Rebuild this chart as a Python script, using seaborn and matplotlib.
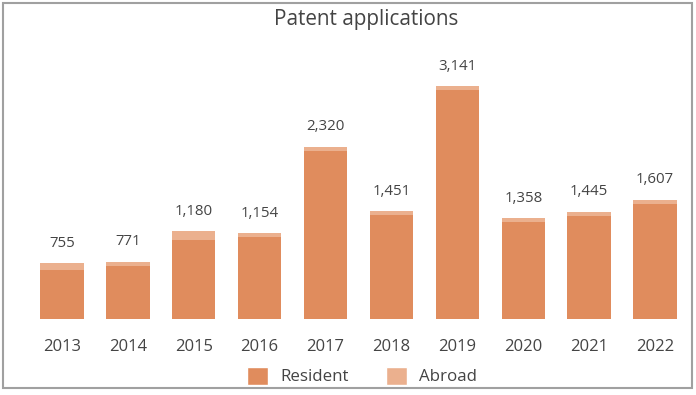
import matplotlib
matplotlib.use("Agg")
import matplotlib.pyplot as plt
import seaborn as sns
import pandas as pd
from matplotlib.patches import Patch, Rectangle

years = ["2013", "2014", "2015", "2016", "2017", "2018", "2019", "2020", "2021", "2022"]
totals = [755, 771, 1180, 1154, 2320, 1451, 3141, 1358, 1445, 1607]
resident = [665, 711, 1060, 1099, 2265, 1406, 3091, 1303, 1390, 1549]
abroad = [90, 60, 120, 55, 55, 45, 50, 55, 55, 58]
title = "Patent applications"

c_res = "#E08C5D"
c_abr = "#EBB08E"
txt = "#444444"

sns.set_theme(style="white")
plt.rcParams["font.family"] = ["Open Sans", "DejaVu Sans"]

df = pd.DataFrame({"year": years, "total": totals, "resident": resident, "abroad": abroad})

fig = plt.figure(figsize=(6.96, 3.95), dpi=100)
ax = fig.add_axes([29 / 696, 1 - 319 / 395, 659 / 696, (319 - 52) / 395])

sns.barplot(data=df, x="year", y="total", color=c_abr, width=0.66, saturation=1,
            linewidth=0, edgecolor="none", ax=ax)
sns.barplot(data=df, x="year", y="resident", color=c_res, width=0.66, saturation=1,
            linewidth=0, edgecolor="none", ax=ax)

for i, t in enumerate(df["total"]):
    ax.annotate(f"{t:,}", (i, t), xytext=(0, 9), textcoords="offset points",
                ha="center", va="bottom", fontsize=10.8, color=txt)

ax.set_ylim(0, 3600)
ax.set_xlim(-0.5, len(years) - 0.5)
ax.set_xlabel("")
ax.set_ylabel("")
ax.set_yticks([])
for s in ax.spines.values():
    s.set_visible(False)
ax.tick_params(axis="x", length=0, pad=14.5, labelsize=12, labelcolor=txt)

fig.text(366 / 696, 1 - 19 / 395, title, ha="center", va="center", fontsize=14.9, color=txt)

handles = [Patch(facecolor=c_res, label="Resident"), Patch(facecolor=c_abr, label="Abroad")]
fig.legend(handles=handles, loc="center", bbox_to_anchor=(362 / 696, 1 - 376 / 395), ncol=2,
           frameon=False, fontsize=12.2, labelcolor=txt, handlelength=1.25, handleheight=1.25,
           columnspacing=2.2, handletextpad=0.7)

fig.patches.append(Rectangle((3 / 696, 1 - 388 / 395), 689 / 696, 385 / 395,
                             transform=fig.transFigure, fill=False, edgecolor="#a0a0a0", lw=1.5))

fig.savefig("out.png", dpi=100)
